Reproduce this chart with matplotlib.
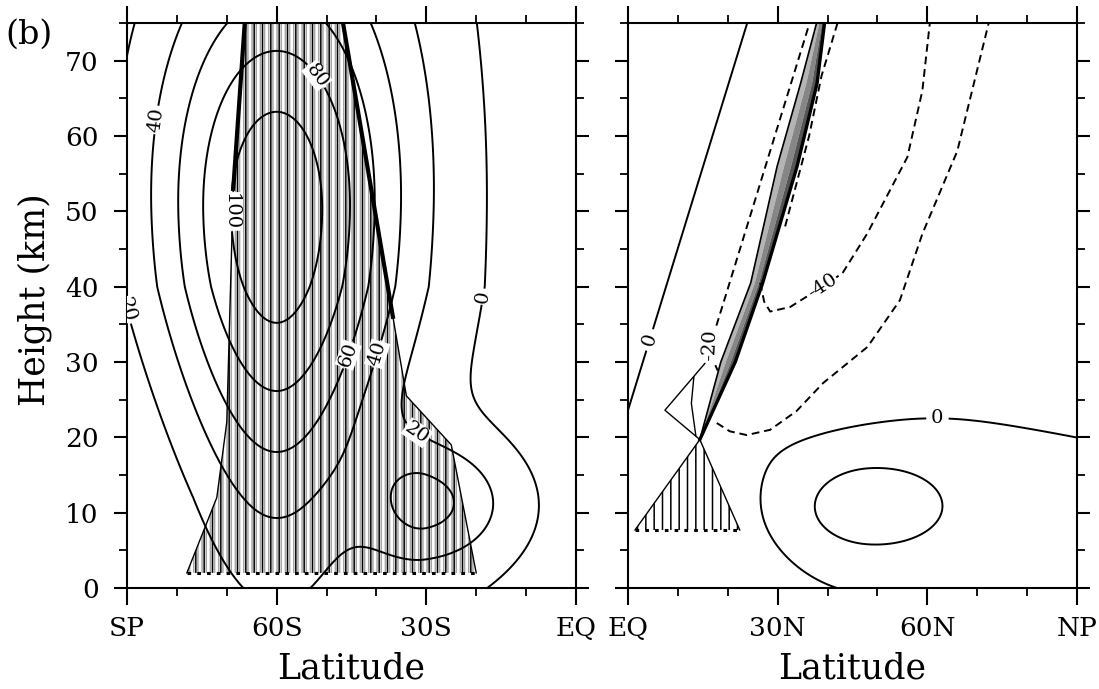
import numpy as np
import matplotlib
matplotlib.use("Agg")
import matplotlib.pyplot as plt

plt.rcParams['font.family'] = 'DejaVu Serif'
plt.rcParams['hatch.linewidth'] = 1.1

# ---------------- southern hemisphere (winter) wind field ----------------
# polar night jet: latitude, height (km), peak speed (m/s)
pnj_lat, pnj_z, pnj_amp = -60.0, 50.0, 115.0
pnj_sigz = [28.0, 25.0]            # vertical half widths below / above the core
pnj_width_z = [0.0, 12.0, 40.0, 75.0]
pnj_width = [12.0, 13.0, 17.0, 18.0]
# subtropical jet
stj_lat, stj_z, stj_amp = -30.0, 11.25, 46.0
stj_sig = [8.0, 12.0, 5.7]         # poleward, equatorward, vertical
# tropical easterlies
east_z = [0.0, 75.0]
east_amp = [8.0, 14.0]
east_width = 15.0

levels_s = [0, 20, 40, 60, 80, 100, 120]
labels_s = [(-82.7, 62), (-89.6, 38), (-67.4, 50), (-52, 68), (-46, 31),
            (-39.5, 31), (-30.5, 22), (-21.6, 39)]

# hatched region (latitude, height)
hatch_s_lat = [-78, -72, -70, -68.7, -66.4, -46.7, -36.7, -34, -25, -20]
hatch_s_z = [2, 12, 22, 53, 75, 75, 36, 25.5, 19, 2]

# ---------------- northern hemisphere (summer) wind field ----------------
tj_lat, tj_z, tj_amp = 48.0, 10.7, 34.0
tj_sig = [9.5, 10.7, 4.0]          # equatorward, poleward, vertical
sfc_amp, sfc_lat, sfc_width, sfc_z = 6.0, 62.0, 22.0, 15.0
trade_amp, trade_width, trade_depth = 12.0, 22.0, 25.0
upper_amp, upper_z, upper_dz = 10.0, 21.0, 1.5

# westerly sector left of the critical line
zero_lat = [0.0, 23.9]
zero_z = [23.6, 75.0]
west_slope_z = [22.0, 32.0]
west_slope = [0.6, 1.6]

# critical-line wedge
wedge_z = [19.7, 30, 40.5, 56, 67, 75]
wedge_left = [14.4, 18.6, 24.6, 29.9, 34.6, 37.8]
wedge_right = [14.4, 21.5, 27.0, 33.9, 37.9, 39.4]

# easterly contours
m20_lat = [17.8, 20.4, 23.8, 28.5, 33.8, 39.1, 48, 54.5, 59, 66, 72.3]
m20_z = [21.9, 20.8, 20.3, 21.0, 23.5, 27.2, 32, 38.2, 47, 58, 75]
m40_lat = [26.5, 27.3, 28.5, 32.5, 39, 43, 48, 56, 59, 60.5]
m40_z = [40.5, 38.0, 36.7, 37.3, 40, 41.8, 47.1, 57.2, 66, 75]
edge_lat = [31.5, 36.3, 38.8, 42.0]
edge_z = [48, 60, 68, 75]

# hatched triangle and thin closed contour below the wedge
tri_lat = [1.4, 22.4, 14.4]
tri_z = [7.7, 7.7, 19.7]
loop_lat = [14.4, 7.4, 15.4]
loop_z = [19.7, 23.6, 29.8]
inner_lat = [13.6, 12.7, 13.2]
inner_z = [20.2, 24.5, 28.0]

# ---------------- fields ----------------
z = np.linspace(0, 75, 301)
lat_s = np.linspace(-90, 0, 361)
lat_n = np.linspace(0, 90, 361)

LS, ZS = np.meshgrid(lat_s, z)
width = np.interp(ZS, pnj_width_z, pnj_width)
sigz = np.where(ZS < pnj_z, pnj_sigz[0], pnj_sigz[1])
u_s = pnj_amp * np.exp(-(LS - pnj_lat) ** 2 / (2 * width ** 2) - (ZS - pnj_z) ** 2 / (2 * sigz ** 2))
sig_stj = np.where(LS < stj_lat, stj_sig[0], stj_sig[1])
u_s += stj_amp * np.exp(-(LS - stj_lat) ** 2 / (2 * sig_stj ** 2) - (ZS - stj_z) ** 2 / (2 * stj_sig[2] ** 2))
u_s -= np.interp(ZS, east_z, east_amp) * np.exp(-LS ** 2 / (2 * east_width ** 2))

LN, ZN = np.meshgrid(lat_n, z)
sig_t = np.where(LN < tj_lat, tj_sig[0], tj_sig[1])
u_n = tj_amp * np.exp(-(LN - tj_lat) ** 2 / (2 * sig_t ** 2) - (ZN - tj_z) ** 2 / (2 * tj_sig[2] ** 2))
u_n += sfc_amp * np.exp(-(LN - sfc_lat) ** 2 / (2 * sfc_width ** 2)) * (0.3 + ZN / sfc_z * np.exp(1 - ZN / sfc_z))
u_n -= trade_amp * np.exp(-LN ** 2 / (2 * trade_width ** 2)) * np.exp(-(ZN / trade_depth) ** 2)
u_n -= upper_amp / (1 + np.exp(-(ZN - upper_z) / upper_dz))

apex_z = wedge_z[0]
right_edge = np.interp(ZN, wedge_z, wedge_right)
left_edge = np.interp(ZN, wedge_z, wedge_left)
u_east = np.ma.masked_where((ZN > apex_z) & (LN < right_edge), u_n)

zero_line = zero_lat[0] + (ZN - zero_z[0]) * (zero_lat[1] - zero_lat[0]) / (zero_z[1] - zero_z[0])
slope = np.interp(ZN, west_slope_z, west_slope)
u_west = np.ma.masked_where(~((ZN > apex_z) & (LN < left_edge)), slope * (zero_line - LN))

# ---------------- figure ----------------
fig = plt.figure(figsize=(10.99, 6.89), dpi=100)
ax_s = fig.add_axes([127 / 1099, 101 / 689, 449 / 1099, 565 / 689])
ax_n = fig.add_axes([628 / 1099, 101 / 689, 449 / 1099, 565 / 689])


def label_style(texts):
    for t in texts:
        t.set_bbox(dict(facecolor='white', edgecolor='none', pad=0.6))
        t.set_zorder(5)


# left panel
ax_s.fill(hatch_s_lat, hatch_s_z, facecolor='none', edgecolor='#a6a6a6', hatch='||||', lw=0, zorder=1)
ax_s.fill(hatch_s_lat, hatch_s_z, facecolor='none', edgecolor='k', hatch='||', lw=0, zorder=1.1)
ax_s.plot(hatch_s_lat[:5], hatch_s_z[:5], color='k', lw=1.0, zorder=2)
ax_s.plot(hatch_s_lat[5:], hatch_s_z[5:], color='k', lw=1.0, zorder=2)
ax_s.plot(hatch_s_lat[3:5], hatch_s_z[3:5], color='k', lw=3.0, zorder=2)
ax_s.plot(hatch_s_lat[5:7], hatch_s_z[5:7], color='k', lw=3.0, zorder=2)
ax_s.plot([hatch_s_lat[0], hatch_s_lat[-1]], [hatch_s_z[0], hatch_s_z[-1]],
          color='k', lw=2.2, ls=(0, (1.2, 2.0)), zorder=2)

cs = ax_s.contour(LS, ZS, u_s, levels=levels_s, colors='k', linewidths=1.4, zorder=3)
label_style(ax_s.clabel(cs, fmt='%d', fontsize=14, inline=True, inline_spacing=2, manual=labels_s))

# right panel
wz = np.array(wedge_z)
wl = np.array(wedge_left)
wr = np.array(wedge_right)
for f0, f1, shade in zip([0, 0.35, 0.7], [0.35, 0.7, 1.0], ['#b4b4b4', '#868686', '#555555']):
    a = wl + f0 * (wr - wl)
    b = wl + f1 * (wr - wl)
    ax_n.fill(np.r_[a, b[::-1]], np.r_[wz, wz[::-1]], color=shade, lw=0, zorder=2)
ax_n.plot(wl, wz, color='k', lw=1.2, zorder=3)
ax_n.plot(wr, wz, color='k', lw=2.4, zorder=3)

ax_n.fill(tri_lat, tri_z, facecolor='none', edgecolor='k', hatch='||', lw=0, zorder=1)
ax_n.plot(tri_lat[:2], tri_z[:2], color='k', lw=2.2, ls=(0, (1.2, 2.0)), zorder=2)
ax_n.plot([tri_lat[0], tri_lat[2]], [tri_z[0], tri_z[2]], color='k', lw=1.0, zorder=2)
ax_n.plot([tri_lat[1], tri_lat[2]], [tri_z[1], tri_z[2]], color='k', lw=1.0, zorder=2)
ax_n.plot(loop_lat, loop_z, color='k', lw=1.0, zorder=2)
ax_n.plot(inner_lat, inner_z, color='k', lw=1.0, zorder=2)

dash = (0, (4, 2.5))
cs_e = ax_n.contour(LN, ZN, u_east, levels=[0, 20], colors='k', linewidths=1.4, zorder=3)
label_style(ax_n.clabel(cs_e, levels=[0], fmt='%d', fontsize=14, inline=True, manual=[(62, 21)]))
cs_w = ax_n.contour(LN, ZN, u_west, levels=[-20, 0], colors='k', linewidths=1.4, zorder=3)
cs_w.set_linestyles([dash, 'solid'])
label_style(ax_n.clabel(cs_w, fmt='%d', fontsize=14, inline=True, manual=[(4, 33), (17.5, 32)]))

ax_n.plot(m20_lat, m20_z, color='k', lw=1.4, ls=dash, zorder=3)
ax_n.plot(m40_lat, m40_z, color='k', lw=1.4, ls=dash, zorder=3)
ax_n.plot(edge_lat, edge_z, color='k', lw=1.4, ls=dash, zorder=3)
ax_n.text(39, 40, '-40', fontsize=14, rotation=33, ha='center', va='center', zorder=5,
          bbox=dict(facecolor='white', edgecolor='none', pad=0.6))

# axes cosmetics
ax_s.set_xlim(-90, 0)
ax_s.set_xticks([-90, -60, -30, 0])
ax_s.set_xticklabels(['SP', '60S', '30S', 'EQ'])
ax_s.set_xticks(np.arange(-80, 0, 10), minor=True)
ax_n.set_xlim(0, 90)
ax_n.set_xticks([0, 30, 60, 90])
ax_n.set_xticklabels(['EQ', '30N', '60N', 'NP'])
ax_n.set_xticks(np.arange(10, 90, 10), minor=True)

for ax in (ax_s, ax_n):
    ax.set_ylim(0, 75)
    ax.set_yticks(np.arange(0, 71, 10))
    ax.set_yticks(np.arange(5, 76, 10), minor=True)
    ax.tick_params(axis='x', which='major', direction='out', length=12, width=1.5, pad=8,
                   labelsize=19, top=True)
    ax.tick_params(axis='x', which='minor', direction='out', length=5.5, width=1.3, top=True)
    ax.tick_params(axis='y', which='major', direction='out', length=9.5, width=1.5, pad=11,
                   labelsize=19, right=True)
    ax.tick_params(axis='y', which='minor', direction='out', length=5.5, width=1.3, right=True)
    for sp in ax.spines.values():
        sp.set_linewidth(1.5)
    ax.set_xlabel('Latitude', fontsize=25, va='center')
    ax.xaxis.set_label_coords(0.5, -0.143)
ax_n.tick_params(axis='y', labelleft=False)

ax_s.set_ylabel('Height (km)', fontsize=25, va='center')
ax_s.yaxis.set_label_coords(-0.205, 0.51)
fig.text(53 / 1099, 1 - 35 / 689, '(b)', fontsize=24, ha='right', va='center')

fig.savefig('out.png', dpi=100)
